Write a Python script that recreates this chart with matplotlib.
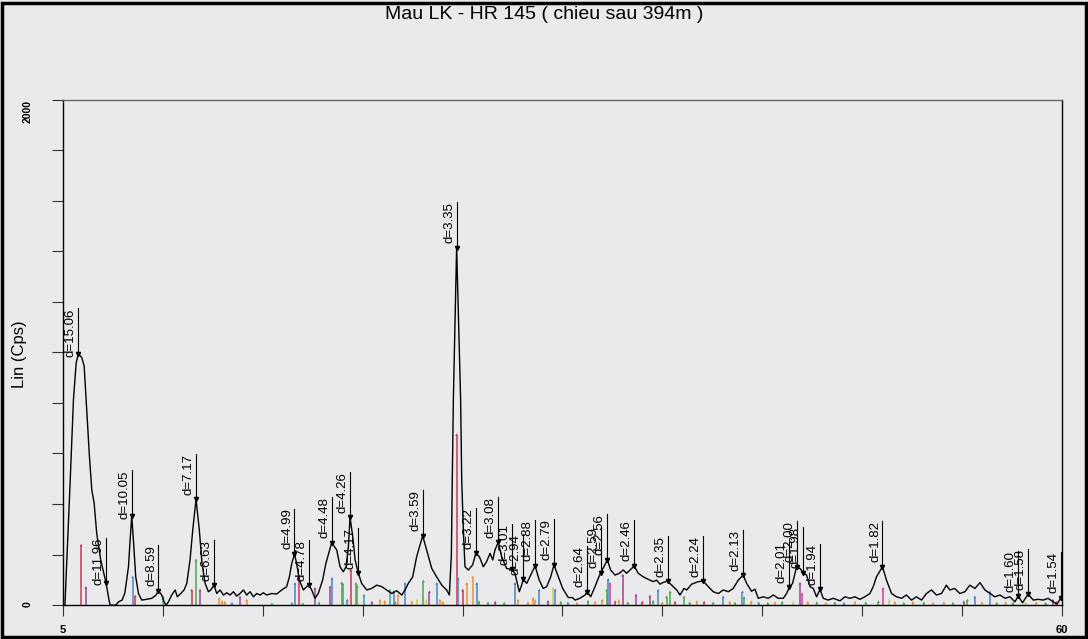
import numpy as np
import matplotlib
matplotlib.use('Agg')
import matplotlib.pyplot as plt
from matplotlib.patches import Rectangle

plt.rcParams['font.family'] = ['Liberation Sans Narrow', 'Liberation Sans', 'DejaVu Sans']

# diffractogram: 2-theta (deg) / intensity (Cps)
two_theta = [5.10, 5.385, 5.57, 5.72, 5.84, 6.03, 6.16, 6.30, 6.45, 6.58, 6.71, 6.85, 7.07, 7.37, 7.53, 7.59,
             7.90, 8.05, 8.25, 8.40, 8.60, 8.69, 8.78, 8.87, 9.00, 9.15, 9.33, 9.60, 9.88, 10.12, 10.25, 10.43,
             10.56, 10.67, 10.80, 10.98, 11.17, 11.29, 11.48, 11.66, 11.81, 11.99, 12.14, 12.32, 12.50, 12.65,
             12.82, 13.00, 13.13, 13.31, 13.46, 13.64, 13.83, 14.01, 14.19, 14.38, 14.56, 14.74, 14.93, 15.11,
             15.30, 15.48, 15.66, 15.85, 16.03, 16.21, 16.49, 16.76, 17.04, 17.31, 17.46, 17.59, 17.74, 17.86,
             18.01, 18.23, 18.41, 18.54, 18.69, 18.87, 19.05, 19.29, 19.47, 19.79, 20.07, 20.25, 20.43, 20.58,
             20.71, 20.80, 20.95, 21.08, 21.26, 21.44, 21.72, 21.99, 22.27, 22.55, 22.82, 23.10, 23.37, 23.65,
             23.83, 24.01, 24.25, 24.47, 24.80, 25.02, 25.30, 25.57, 25.85, 26.12, 26.27, 26.38, 26.43, 26.49,
             26.67, 26.89, 26.95, 27.04, 27.13, 27.31, 27.55, 27.73, 27.92, 28.14, 28.32, 28.51, 28.66, 28.78,
             28.96, 29.15, 29.42, 29.70, 29.88, 30.01, 30.12, 30.25, 30.34, 30.53, 30.75, 30.99, 31.22, 31.44,
             31.63, 31.85, 32.03, 32.27, 32.51, 32.73, 32.82, 33.05, 33.19, 33.46, 33.74, 33.86, 34.05, 34.29,
             34.47, 34.60, 34.78, 34.97, 35.15, 35.39, 35.63, 35.85, 36.03, 36.22, 36.45, 36.67, 36.95, 37.22,
             37.50, 37.68, 37.87, 38.05, 38.29, 38.51, 38.79, 38.97, 39.19, 39.34, 39.61, 39.98, 40.25, 40.53,
             40.80, 41.08, 41.35, 41.63, 41.90, 42.18, 42.45, 42.64, 42.91, 43.10, 43.28, 43.56, 43.83, 44.11,
             44.38, 44.66, 44.84, 44.99, 45.17, 45.39, 45.58, 45.76, 45.94, 46.13, 46.31, 46.49, 46.68, 46.86,
             47.13, 47.41, 47.78, 48.05, 48.33, 48.60, 48.88, 49.15, 49.43, 49.61, 49.79, 50.12, 50.34, 50.62,
             50.89, 51.17, 51.44, 51.72, 51.99, 52.27, 52.54, 52.82, 53.09, 53.37, 53.64, 53.83, 54.10, 54.38,
             54.66, 54.93, 55.21, 55.49, 55.76, 56.04, 56.31, 56.59, 56.87, 57.14, 57.41, 57.60, 57.83, 58.14,
             58.42, 58.69, 58.97, 59.24, 59.52, 59.74, 59.95]
counts = [0, 483, 813, 959, 995, 979, 946, 774, 588, 456, 403, 284, 179, 86, 20, 0,
          0, 13, 20, 48, 152, 258, 353, 258, 112, 46, 20, 23, 27, 40, 57, 40,
          13, 0, 13, 40, 60, 33, 46, 60, 86, 179, 298, 419, 298, 165,
          86, 53, 60, 79, 46, 60, 40, 49, 40, 53, 36, 46, 60, 40,
          53, 33, 46, 40, 49, 40, 46, 44, 60, 73, 112, 165, 202, 165,
          99, 60, 73, 79, 60, 27, 46, 99, 165, 247, 218, 152, 132, 152,
          231, 348, 271, 179, 126, 86, 60, 66, 79, 73, 60, 46, 57, 40,
          60, 86, 112, 192, 274, 218, 145, 112, 79, 60, 40, 200, 496, 813,
          1415, 813, 496, 298, 152, 139, 159, 205, 192, 152, 172, 205, 179, 218,
          249, 192, 145, 142, 126, 86, 53, 79, 102, 86, 119, 155, 99, 66,
          73, 112, 159, 112, 66, 40, 30, 30, 20, 27, 40, 53, 33, 73,
          106, 128, 152, 179, 139, 119, 126, 139, 126, 139, 155, 126, 112, 102,
          93, 99, 83, 90, 95, 79, 60, 40, 66, 60, 83, 93, 95, 73,
          53, 46, 60, 53, 66, 99, 119, 86, 55, 63, 27, 33, 27, 40,
          27, 27, 46, 70, 86, 152, 145, 128, 119, 73, 66, 33, 62, 27,
          20, 27, 17, 33, 27, 33, 23, 33, 46, 73, 112, 152, 99, 46,
          33, 27, 40, 20, 33, 20, 46, 60, 40, 46, 79, 60, 66, 46,
          53, 79, 66, 89, 60, 46, 33, 40, 27, 33, 13, 36, 9, 44,
          20, 23, 20, 27, 13, 4, 30]

# labelled peaks (d-spacing text, 2-theta)
peak_d = ['15.06', '11.96', '10.05', '8.59', '7.17', '6.63', '4.99', '4.78', '4.48', '4.26', '4.17',
          '3.59', '3.35', '3.22', '3.08', '3.01', '2.94', '2.88', '2.79', '2.64', '2.59', '2.56',
          '2.46', '2.35', '2.24', '2.13', '2.01', '2.00', '1.98', '1.94', '1.82', '1.60', '1.58', '1.54']
peak_pos = [5.84, 7.37, 8.78, 10.25, 12.32, 13.31, 17.74, 18.54, 19.79, 20.80, 21.26,
            24.80, 26.67, 27.73, 28.96, 29.70, 30.34, 30.99, 32.03, 33.86, 34.60, 34.97,
            36.45, 38.29, 40.25, 42.45, 44.99, 45.39, 45.76, 46.68, 50.12, 57.60, 58.14, 59.95]

# reference pattern sticks (2-theta, height, phase)
stick_pos = [5.99, 6.25, 8.83, 8.98, 10.52, 12.08, 12.32, 12.54, 13.60, 13.75, 14.74, 15.10,
             17.77, 18.01, 18.87, 19.70, 19.81, 20.34, 20.40, 20.66, 20.84, 21.13, 21.20, 21.57,
             22.45, 23.00, 23.20, 23.46, 23.83, 24.50, 24.84, 25.17, 25.57, 25.75, 26.67, 26.76,
             27.00, 27.22, 27.55, 27.77, 29.88, 30.05, 30.89, 31.22, 31.70, 31.99, 32.10, 34.93,
             35.02, 35.11, 35.81, 36.55, 37.31, 37.77, 38.23, 38.42, 39.19, 41.35, 42.41, 42.50,
             45.58, 45.70, 50.15, 55.20, 56.04, 59.50,
             13.90, 14.30, 16.50, 17.60, 18.20, 19.10, 22.00, 22.70, 23.30, 24.20, 25.00, 25.90,
             27.90, 28.40, 28.80, 29.30, 30.60, 31.00, 32.40, 32.80, 33.30, 33.90, 34.30, 34.70,
             35.40, 35.60, 36.10, 36.90, 37.50, 38.00, 38.70, 39.50, 39.90, 40.30, 40.80, 41.70,
             42.00, 42.90, 43.30, 43.80, 44.20, 44.60, 45.20, 46.00, 46.50, 47.00, 47.50, 48.00,
             48.60, 49.20, 49.90, 50.50, 50.80, 51.30, 51.80, 52.40, 52.90, 53.50, 54.00, 54.60,
             54.80, 55.60, 56.40, 56.90, 57.30, 58.00, 58.60, 59.10, 59.70]
stick_h = [238, 70, 112, 36, 33, 60, 179, 60, 27, 15, 33, 20,
           86, 115, 66, 73, 106, 89, 85, 20, 139, 86, 75, 40,
           20, 60, 55, 40, 86, 20, 96, 53, 86, 20, 675, 106,
           60, 86, 112, 86, 86, 20, 27, 60, 15, 66, 60, 60,
           102, 86, 119, 40, 36, 60, 33, 53, 33, 33, 53, 30,
           86, 45, 66, 33, 53, 20,
           12, 8, 6, 8, 6, 10, 12, 15, 10, 14, 18, 12,
           14, 10, 12, 8, 10, 18, 12, 10, 8, 16, 12, 20,
           14, 18, 10, 12, 16, 10, 12, 10, 14, 12, 10, 12,
           8, 14, 10, 8, 10, 12, 10, 12, 10, 8, 10, 8,
           12, 10, 14, 18, 12, 8, 12, 10, 8, 10, 8, 14,
           20, 10, 8, 10, 8, 10, 10, 8, 12]
stick_phase = ['A', 'B', 'C', 'A', 'F', 'A', 'D', 'B', 'E', 'E', 'B', 'E',
               'C', 'A', 'B', 'B', 'C', 'D', 'D', 'C', 'A', 'D', 'D', 'F',
               'E', 'F', 'C', 'E', 'C', 'G', 'D', 'B', 'C', 'E', 'A', 'C',
               'A', 'E', 'E', 'C', 'C', 'E', 'E', 'C', 'B', 'G', 'C', 'D',
               'C', 'H', 'B', 'B', 'B', 'C', 'D', 'D', 'D', 'C', 'C', 'D',
               'B', 'H', 'H', 'C', 'C', 'B',
               'E', 'C', 'F', 'F', 'D', 'F', 'B', 'E', 'D', 'E', 'G', 'E',
               'D', 'F', 'B', 'D', 'E', 'E', 'D', 'F', 'E', 'D', 'E', 'E',
               'B', 'E', 'D', 'A', 'D', 'E', 'A', 'D', 'E', 'A', 'D', 'E',
               'D', 'E', 'F', 'D', 'E', 'D', 'G', 'E', 'D', 'E', 'D', 'C',
               'E', 'D', 'D', 'G', 'E', 'D', 'E', 'D', 'E', 'E', 'D', 'B',
               'D', 'E', 'D', 'E', 'D', 'G', 'E', 'D', 'A']
phase_colors = {'A': '#c83a52', 'B': '#9c4590', 'C': '#4a86c0', 'D': '#4aa84e',
                'E': '#e8943a', 'F': '#3aa8a0', 'G': '#cfcf3c', 'H': '#d0449c'}

bg = '#eaeaec'
fig = plt.figure(figsize=(10.88, 6.39), dpi=100, facecolor=bg)
ax = fig.add_axes([0.058, 0.053, 0.918, 0.791], facecolor=bg)

# sticks first so the pattern line sits on top
cols = [phase_colors[p] for p in stick_phase]
ax.vlines(stick_pos, 0, stick_h, colors=cols, lw=1.1, zorder=2)
ax.scatter(stick_pos, stick_h, c=cols, s=4, marker='^', zorder=2, linewidths=0)

ax.plot(two_theta, counts, color='black', lw=1.0, zorder=3)

# peak markers with d-value labels
label_len = 180
for d, pos in zip(peak_d, peak_pos):
    y = np.interp(pos, two_theta, counts)
    ax.plot([pos, pos], [y, y + label_len], color='black', lw=0.8, zorder=4)
    ax.plot(pos, y, marker='v', ms=3, color='black', zorder=4)
    ax.annotate('d=' + d, xy=(pos, y + label_len), xytext=(-1, 0), textcoords='offset points',
                rotation=90, ha='right', va='top', fontsize=9.5, zorder=5)

ax.set_xlim(5, 60)
ax.set_ylim(0, 2000)
ax.set_xticks(np.linspace(5, 60, 11))
ax.set_xticklabels(['5'] + [''] * 9 + ['60'], fontsize=8, fontweight='bold')
ax.set_yticks(np.arange(0, 2001, 200))
ylabels = ax.set_yticklabels(['0'] + [''] * 9 + ['2000'], fontsize=7.5, fontweight='bold', rotation=90)
ylabels[-1].set_va('top')
ax.tick_params(axis='both', direction='out', length=8, width=0.8, color='#333333')
ax.tick_params(axis='y', pad=14)
ax.tick_params(axis='x', pad=6)
for s in ax.spines.values():
    s.set_linewidth(1.0)
ax.spines['top'].set_color('#666666')

fig.text(0.018, 0.445, 'Lin (Cps)', rotation=90, ha='center', va='center',
         fontsize=12, family=['Liberation Sans', 'DejaVu Sans'])
fig.text(0.5, 0.978, 'Mau LK - HR 145 ( chieu sau 394m )', ha='center', va='center', fontsize=14)

# scan border
fig.add_artist(Rectangle((0.002, 0.003), 0.996, 0.992, transform=fig.transFigure,
                         fill=False, lw=2.5, ec='black'))

fig.savefig('out.png', dpi=100, facecolor=bg)
